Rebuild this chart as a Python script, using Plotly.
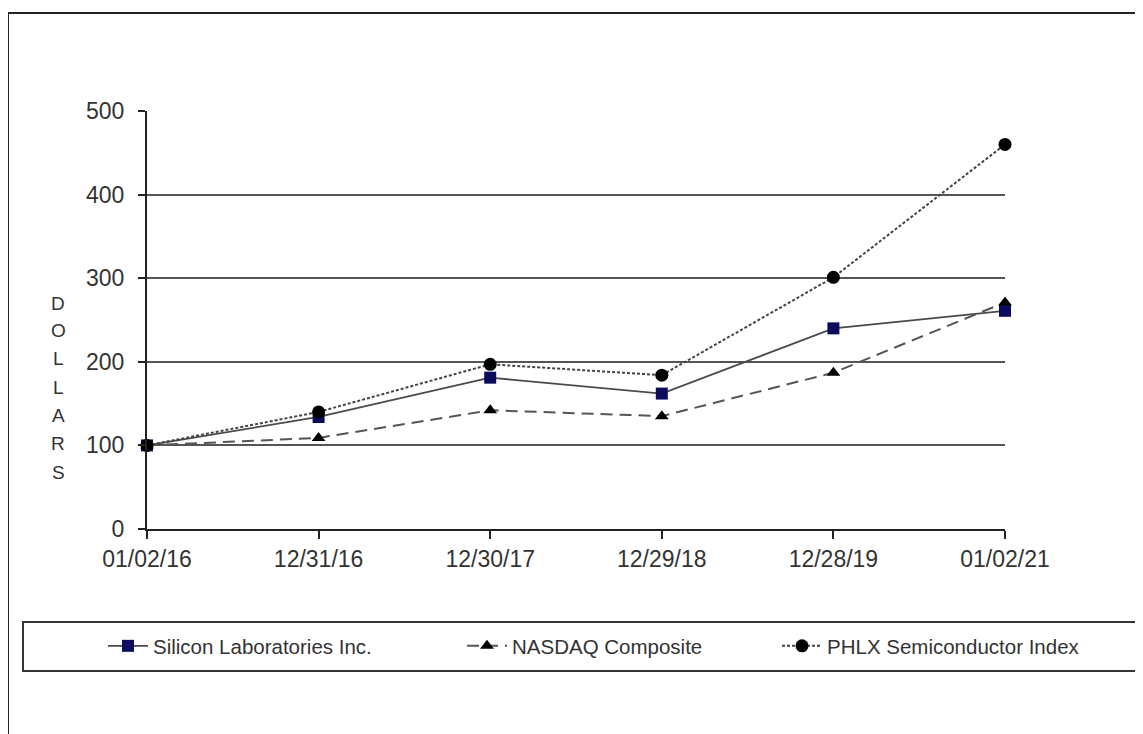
import plotly.graph_objects as go

dates = ["01/02/16", "12/31/16", "12/30/17", "12/29/18", "12/28/19", "01/02/21"]
silicon = [100, 134, 181, 162, 240, 261]
nasdaq = [100, 109, 142, 135, 187, 271]
phlx = [100, 140, 197, 184, 301, 460]
y_ticks = [0, 100, 200, 300, 400, 500]
names = ["Silicon Laboratories Inc.", "NASDAQ Composite", "PHLX Semiconductor Index"]

# page is offset by the 8px body margin
OFF = 8
W, H = 1143 - OFF, 734 - OFF
L, R, T, B = 147 - OFF, 1005 - OFF, 111 - OFF, 529 - OFF
pw, ph = R - L, B - T


def px(x):  # page x -> paper
    return (x - OFF - L) / pw


def py(y):  # page y -> paper
    return (B - (y - OFF)) / ph


xs = list(range(len(dates)))
FONT = "Liberation Sans, Arial, sans-serif"
TXT = "#333333"

fig = go.Figure()
fig.add_trace(go.Scatter(
    x=xs, y=silicon, name=names[0], mode="lines+markers", cliponaxis=False,
    line=dict(color="#4a4a4a", width=1.8, dash="solid"),
    marker=dict(symbol="square", size=12, color="#0c0c5c"),
    legend="legend", showlegend=True))
fig.add_trace(go.Scatter(
    x=xs, y=nasdaq, name=names[1], mode="lines+markers", cliponaxis=False,
    line=dict(color="#555555", width=2, dash="12px,7px"),
    marker=dict(symbol="triangle-up", size=12, color="#000000"),
    legend="legend2", showlegend=True))
fig.add_trace(go.Scatter(
    x=xs, y=phlx, name=names[2], mode="lines+markers", cliponaxis=False,
    line=dict(color="#444444", width=2, dash="3px,2px"),
    marker=dict(symbol="circle", size=13, color="#000000"),
    legend="legend3", showlegend=True))

shapes = [
    # outer frame
    dict(type="rect", xref="paper", yref="paper",
         x0=px(8), x1=px(1160), y0=py(13), y1=py(760),
         line=dict(color="#222222", width=2), layer="below"),
    # legend box
    dict(type="rect", xref="paper", yref="paper",
         x0=px(23), x1=px(1160), y0=py(622), y1=py(671),
         line=dict(color="#333333", width=2), layer="below"),
]

annotations = []
letters = "DOLLARS"
letter_y = [303, 330, 358, 387, 415, 443, 472]
for ch, ly in zip(letters, letter_y):
    annotations.append(dict(text=ch, x=px(58), y=py(ly), xref="paper", yref="paper",
                            showarrow=False, xanchor="center", yanchor="middle",
                            font=dict(family=FONT, size=19, color=TXT)))

leg_common = dict(orientation="h", yanchor="middle", xanchor="left",
                  bgcolor="rgba(0,0,0,0)", borderwidth=0,
                  font=dict(family=FONT, size=20.5, color=TXT), itemwidth=40)

fig.update_layout(
    width=W, height=H, showlegend=True,
    margin=dict(l=L, r=W - R, t=T, b=H - B, pad=0),
    paper_bgcolor="white", plot_bgcolor="white",
    xaxis=dict(range=[0, 5], tickmode="array", tickvals=xs, ticktext=dates,
               showgrid=False, zeroline=False, showline=True, linecolor="#222222",
               linewidth=2, ticks="outside", ticklen=8, tickcolor="#222222",
               tickwidth=1.5, tickfont=dict(family=FONT, size=23, color=TXT),
               fixedrange=True),
    yaxis=dict(range=[0, 500], tickmode="array", tickvals=y_ticks,
               showgrid=True, gridcolor="#555555", gridwidth=2, zeroline=False,
               showline=True, linecolor="#222222", linewidth=2, ticks="outside",
               ticklen=7, tickcolor="#222222", tickwidth=1.5,
               ticklabelstandoff=9,
               tickfont=dict(family=FONT, size=23, color=TXT), fixedrange=True),
    legend=dict(x=px(103), y=py(646), **leg_common),
    legend2=dict(x=px(462), y=py(646), **leg_common),
    legend3=dict(x=px(777), y=py(646), **leg_common),
    shapes=shapes, annotations=annotations,
)

fig.write_html("out.html")
